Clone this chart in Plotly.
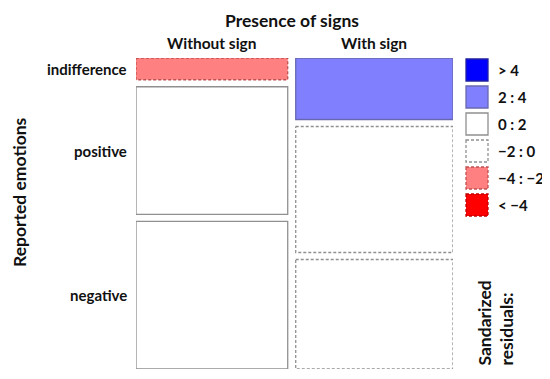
import plotly.graph_objects as go
import numpy as np

# ---- data ----
col_labels = ["Without sign", "With sign"]
row_labels = ["indifference", "positive", "negative"]
without_sign = [14, 82, 95]
with_sign = [41, 84, 73]
legend_labels = ["> 4", "2 : 4", "0 : 2", "\u22122 : 0", "\u22124 : \u22122", "< \u22124"]

counts = np.array([without_sign, with_sign], dtype=float)  # [col][row]
N = counts.sum()
col_tot = counts.sum(axis=1)
row_tot = counts.sum(axis=0)
expected = np.outer(col_tot, row_tot) / N
resid = (counts - expected) / np.sqrt(expected)

# styles for residual bins: (fill, line colour, dash)
styles = [
    ("#0000ff", "#2020a0", "solid"),
    ("#8080ff", "#6868b0", "solid"),
    ("#ffffff", "#909090", "solid"),
    ("#ffffff", "#909090", "3px,2px"),
    ("#ff8080", "#c05050", "3px,2px"),
    ("#ff0000", "#c00000", "3px,2px"),
]

def style_for(r):
    if r > 4: return styles[0]
    if r > 2: return styles[1]
    if r > 0: return styles[2]
    if r > -2: return styles[3]
    if r > -4: return styles[4]
    return styles[5]

OFF = 8  # page body margin
W, H = 550, 379
PW, PH = 317, 311
L, T = 136 - OFF, 58 - OFF
R, B = W - L - PW, H - T - PH
gap_x = 8 / PW
gap_y = 7 / PH

fig = go.Figure()
FONT = "Lato, 'Open Sans', sans-serif"

col_x = []
x = 0.0
row_centers_first = []
for j in range(len(col_labels)):
    w = (1 - gap_x) * col_tot[j] / N
    x0, x1 = x, x + w
    col_x.append((x0 + x1) / 2)
    y = 0.0
    for i in range(len(row_labels)):
        h = (1 - gap_y * (len(row_labels) - 1)) * counts[j, i] / col_tot[j]
        y0, y1 = y, y + h
        fill, lc, dash = style_for(resid[j, i])
        fig.add_trace(go.Scatter(
            x=[x0, x1, x1, x0, x0], y=[y0, y0, y1, y1, y0],
            mode="lines", fill="toself", fillcolor=fill,
            line=dict(color=lc, width=1.3, dash=dash),
            hoverinfo="skip", showlegend=False))
        if j == 0:
            row_centers_first.append((y0 + y1) / 2)
        y = y1 + gap_y
    x = x1 + gap_x

# convert reference-image pixel positions to paper coordinates
def px2paper_x(px):
    return (px - OFF - L) / PW

def px2paper_y(py):
    return (T + PH - (py - OFF)) / PH

annotations = []
annotations.append(dict(text="<b>Presence of signs</b>", x=px2paper_x(292), y=px2paper_y(20),
                        xref="paper", yref="paper", xanchor="center", yanchor="middle",
                        showarrow=False, font=dict(size=17.5, family=FONT, color="#111")))
for cx, lab in zip(col_x, col_labels):
    annotations.append(dict(text=f"<b>{lab}</b>", x=cx, y=px2paper_y(43),
                            xref="x", yref="paper", xanchor="center", yanchor="middle",
                            showarrow=False, font=dict(size=15.5, family=FONT, color="#111")))
for cy, lab in zip(row_centers_first, row_labels):
    annotations.append(dict(text=f"<b>{lab}</b>", x=px2paper_x(129), y=cy,
                            xref="paper", yref="y", xanchor="right", yanchor="middle",
                            showarrow=False, font=dict(size=15, family=FONT, color="#111")))
annotations.append(dict(text="<b>Reported emotions</b>", x=px2paper_x(19), y=px2paper_y(192),
                        xref="paper", yref="paper", xanchor="center", yanchor="middle",
                        showarrow=False, textangle=-90,
                        font=dict(size=17.5, family=FONT, color="#111")))

shapes = []
for k, (lab, (fill, lc, dash)) in enumerate(zip(legend_labels, styles)):
    top = 59 + 27 * k
    shapes.append(dict(type="rect", xref="paper", yref="paper",
                       x0=px2paper_x(466), x1=px2paper_x(488),
                       y0=px2paper_y(top), y1=px2paper_y(top + 22),
                       fillcolor=fill, line=dict(color=lc, width=1.3, dash=dash)))
    annotations.append(dict(text=f"<b>{lab}</b>", x=px2paper_x(496), y=px2paper_y(top + 11),
                            xref="paper", yref="paper", xanchor="left", yanchor="middle",
                            showarrow=False, font=dict(size=15, family=FONT, color="#111")))
annotations.append(dict(text="<b>Sandarized<br>residuals:</b>", x=px2paper_x(495), y=px2paper_y(368),
                        xref="paper", yref="paper", xanchor="center", yanchor="bottom",
                        align="left", showarrow=False, textangle=-90,
                        font=dict(size=17.5, family=FONT, color="#111")))

fig.update_layout(
    width=W, height=H, margin=dict(l=L, r=R, t=T, b=B),
    paper_bgcolor="white", plot_bgcolor="white",
    xaxis=dict(range=[0, 1], visible=False, fixedrange=True),
    yaxis=dict(range=[1, 0], visible=False, fixedrange=True),
    annotations=annotations, shapes=shapes, showlegend=False,
)
fig.write_html("out.html")
